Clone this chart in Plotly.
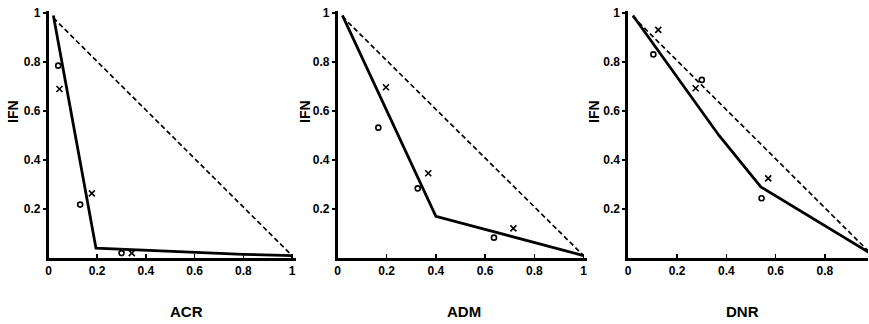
import plotly.graph_objects as go

# ---------------- data ----------------
panels = ["ACR", "ADM", "DNR"]
y_title = "IFN"

# ACR panel
acr_solid_x = [0.02, 0.195, 0.80, 1.00]
acr_solid_y = [0.99, 0.04, 0.015, 0.01]
acr_dash_x = [0.02, 1.00]
acr_dash_y = [0.98, 0.01]
acr_circ_x = [0.04, 0.13, 0.30]
acr_circ_y = [0.785, 0.218, 0.02]
acr_cross_x = [0.045, 0.178, 0.342]
acr_cross_y = [0.69, 0.264, 0.02]

# ADM panel
adm_solid_x = [0.02, 0.40, 1.00]
adm_solid_y = [0.99, 0.17, 0.01]
adm_dash_x = [0.02, 1.00]
adm_dash_y = [0.985, 0.01]
adm_circ_x = [0.166, 0.326, 0.636]
adm_circ_y = [0.532, 0.284, 0.083]
adm_cross_x = [0.197, 0.369, 0.715]
adm_cross_y = [0.697, 0.346, 0.121]

# DNR panel
dnr_solid_x = [0.02, 0.37, 0.54, 1.00]
dnr_solid_y = [0.99, 0.50, 0.29, 0.01]
dnr_dash_x = [0.02, 1.00]
dnr_dash_y = [0.985, 0.005]
dnr_circ_x = [0.103, 0.30, 0.543]
dnr_circ_y = [0.831, 0.727, 0.244]
dnr_cross_x = [0.123, 0.275, 0.570]
dnr_cross_y = [0.931, 0.693, 0.325]

x_tickvals = [0, 0.2, 0.4, 0.6, 0.8, 1]
x_ticktext = ["0", "0.2", "0.4", "0.6", "0.8", "1"]
y_tickvals = [0.2, 0.4, 0.6, 0.8, 1]
y_ticktext = ["0.2", "0.4", "0.6", "0.8", "1"]

series = [
    (acr_solid_x, acr_solid_y, acr_dash_x, acr_dash_y, acr_circ_x, acr_circ_y, acr_cross_x, acr_cross_y),
    (adm_solid_x, adm_solid_y, adm_dash_x, adm_dash_y, adm_circ_x, adm_circ_y, adm_cross_x, adm_cross_y),
    (dnr_solid_x, dnr_solid_y, dnr_dash_x, dnr_dash_y, dnr_circ_x, dnr_circ_y, dnr_cross_x, dnr_cross_y),
]

# ---------------- layout geometry (pixels) ----------------
W, H = 869, 324
x0_px = [48.5, 337.5, 628.0]     # pixel of x = 0
x_scale = [243.5, 246.0, 246.0]  # pixels per unit
x_max = [1.015, 1.015, 240.0 / 246.0]
y0_px, y_scale, y_max = 258.0, 245.0, 1.01

FONT = "Liberation Sans, Arial, sans-serif"

fig = go.Figure()
for i, (sx, sy, dx, dy, cx, cy, kx, ky) in enumerate(series):
    xa = "x" if i == 0 else f"x{i+1}"
    ya = "y" if i == 0 else f"y{i+1}"
    fig.add_trace(go.Scatter(x=dx, y=dy, mode="lines", xaxis=xa, yaxis=ya,
                             line=dict(color="black", width=1.7, dash="5px,3px"),
                             showlegend=False, hoverinfo="skip"))
    fig.add_trace(go.Scatter(x=sx, y=sy, mode="lines", xaxis=xa, yaxis=ya,
                             line=dict(color="black", width=2.8),
                             showlegend=False))
    fig.add_trace(go.Scatter(x=cx, y=cy, mode="markers", xaxis=xa, yaxis=ya,
                             marker=dict(symbol="circle-open", size=5, color="black",
                                         line=dict(width=1.6, color="black")),
                             showlegend=False, cliponaxis=False))
    fig.add_trace(go.Scatter(x=kx, y=ky, mode="markers", xaxis=xa, yaxis=ya,
                             marker=dict(symbol="x-thin-open", size=6, color="black",
                                         line=dict(width=1.6, color="black")),
                             showlegend=False, cliponaxis=False))

layout = dict(
    width=W, height=H,
    margin=dict(l=0, r=0, t=0, b=0),
    paper_bgcolor="white", plot_bgcolor="white",
    font=dict(family=FONT, color="black"),
    showlegend=False,
)

y_dom = [(H - y0_px) / H, (H - (y0_px - y_scale * y_max)) / H]
for i in range(3):
    sfx = "" if i == 0 else str(i + 1)
    left = x0_px[i] / W
    right = min((x0_px[i] + x_scale[i] * x_max[i]) / W, 1.0)
    tv = x_tickvals if i < 2 else x_tickvals[:-1]
    tt = x_ticktext if i < 2 else x_ticktext[:-1]
    layout["xaxis" + sfx] = dict(
        domain=[left, right], range=[0, x_max[i]], anchor="y" + sfx,
        showgrid=False, zeroline=False, showline=True, linecolor="black", linewidth=2.6,
        ticks="inside", ticklen=4, tickwidth=1.5, tickcolor="black",
        tickvals=tv, ticktext=tt,
        tickfont=dict(family=FONT, size=12, color="black", weight="bold"),
        automargin=False, fixedrange=True,
    )
    layout["yaxis" + sfx] = dict(
        domain=y_dom, range=[0, y_max], anchor="x" + sfx,
        showgrid=False, zeroline=False, showline=True, linecolor="black", linewidth=2.6,
        ticks="outside", ticklen=3, tickwidth=1.5, tickcolor="black",
        tickvals=y_tickvals, ticktext=y_ticktext,
        tickfont=dict(family=FONT, size=12, color="black", weight="bold"),
        automargin=False, fixedrange=True,
    )

fig.update_layout(**layout)

# axis titles as annotations (paper coordinates)
xt_px = [186, 464, 742]
ifn_px = [13, 305, 594]
for i in range(3):
    fig.add_annotation(text=panels[i], xref="paper", yref="paper",
                       x=xt_px[i] / W, y=(H - 311) / H, showarrow=False,
                       xanchor="center", yanchor="middle",
                       font=dict(family=FONT, size=15, color="black", weight="bold"))
    fig.add_annotation(text=y_title, xref="paper", yref="paper",
                       x=ifn_px[i] / W, y=(H - 112) / H, showarrow=False, textangle=-90,
                       xanchor="center", yanchor="middle",
                       font=dict(family=FONT, size=14, color="black", weight="bold"))

fig.write_html("out.html",
               config={"displayModeBar": False, "staticPlot": True},
               post_script="document.body.style.margin='0px';document.body.style.overflow='hidden';")
